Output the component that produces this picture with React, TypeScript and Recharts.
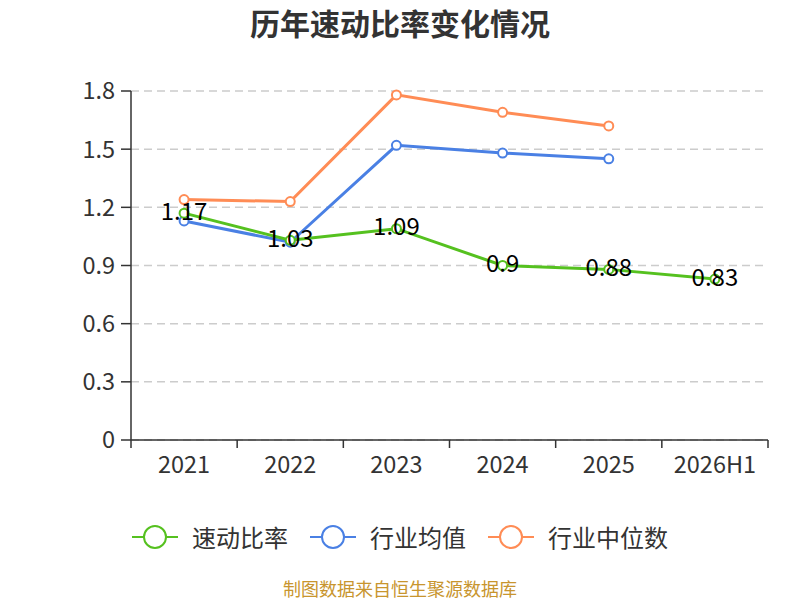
import React from 'react';
import { LineChart, Line, XAxis, YAxis, CartesianGrid, LabelList } from 'recharts';

const years = ['2021', '2022', '2023', '2024', '2025', '2026H1'];
const quickRatio = [1.17, 1.03, 1.09, 0.9, 0.88, 0.83];
const industryMean = [1.13, 1.02, 1.52, 1.48, 1.45, null];
const industryMedian = [1.24, 1.23, 1.78, 1.69, 1.62, null];
const yTicks = [0, 0.3, 0.6, 0.9, 1.2, 1.5, 1.8];

const series = [
  { key: 'quick', name: '速动比率', color: '#55c11f' },
  { key: 'mean', name: '行业均值', color: '#4a80e4' },
  { key: 'median', name: '行业中位数', color: '#ff8c55' },
];

const data = years.map((year, i) => ({
  year,
  quick: quickRatio[i],
  mean: industryMean[i],
  median: industryMedian[i],
}));

const font = '"Noto Sans CJK SC", "Noto Sans", sans-serif';

// tick marks sit on the band edges, labels in the band centre
const XTick = (props: any) => {
  const { x, y, payload, index } = props;
  const half = payload.offset || 0;
  const last = index === years.length - 1;
  return (
    <g>
      <line x1={x - half} y1={y - 8} x2={x - half} y2={y} stroke="#333" strokeWidth={1.5} />
      {last && <line x1={x + half} y1={y - 8} x2={x + half} y2={y} stroke="#333" strokeWidth={1.5} />}
      <text x={x} y={y + 25} textAnchor="middle" fill="#333" fontSize={23.5} fontFamily={font}>
        {payload.value}
      </text>
    </g>
  );
};

const PointLabel = (props: any) => {
  const { x, y, value } = props;
  return (
    <text x={x} y={y - 4} textAnchor="middle" dominantBaseline="central" fill="#000" fontSize={24} fontFamily={font}>
      {value}
    </text>
  );
};

const LegendRow = () => (
  <div
    style={{
      position: 'absolute',
      top: 520,
      left: 0,
      width: 800,
      display: 'flex',
      justifyContent: 'center',
      gap: 22,
      fontFamily: font,
      fontSize: 24,
      lineHeight: '34px',
      color: '#333',
    }}
  >
    {series.map((s) => (
      <div key={s.key} style={{ display: 'flex', alignItems: 'center' }}>
        <svg width={46} height={34} style={{ marginRight: 14 }}>
          <line x1={0} y1={17} x2={46} y2={17} stroke={s.color} strokeWidth={2} />
          <circle cx={23} cy={17} r={11} fill="#fff" stroke={s.color} strokeWidth={2} />
        </svg>
        <span>{s.name}</span>
      </div>
    ))}
  </div>
);

export default function App() {
  return (
    <div style={{ position: 'absolute', left: 0, top: 0, width: 800, height: 600, background: '#fff', overflow: 'hidden' }}>
      <div
        style={{
          position: 'absolute',
          top: 6,
          width: 800,
          textAlign: 'center',
          fontFamily: font,
          fontSize: 30,
          lineHeight: '32px',
          fontWeight: 'bold',
          color: '#333',
        }}
      >
        历年速动比率变化情况
      </div>
      <LineChart
        width={800}
        height={600}
        data={data}
        margin={{ top: 91, right: 32, bottom: 130, left: 0 }}
      >
        <CartesianGrid vertical={false} stroke="#ccc" strokeDasharray="8 5" strokeWidth={1.5} />
        <XAxis
          dataKey="year"
          scale="band"
          axisLine={{ stroke: '#333', strokeWidth: 1.5 }}
          tickLine={false}
          tickSize={8}
          tickMargin={0}
          tick={<XTick />}
          interval={0}
          height={30}
        />
        <YAxis
          domain={[0, 1.8]}
          ticks={yTicks}
          width={131}
          axisLine={{ stroke: '#333', strokeWidth: 1.5 }}
          tickLine={{ stroke: '#333', strokeWidth: 1.5 }}
          tickSize={10}
          tickMargin={6}
          tick={{ fill: '#333', fontSize: 23.5, fontFamily: font }}
        />
        <Line
          dataKey="median"
          stroke="#ff8c55"
          strokeWidth={3}
          dot={{ r: 4.5, fill: '#fff', stroke: '#ff8c55', strokeWidth: 2 }}
          isAnimationActive={false}
        />
        <Line
          dataKey="mean"
          stroke="#4a80e4"
          strokeWidth={3}
          dot={{ r: 4.5, fill: '#fff', stroke: '#4a80e4', strokeWidth: 2 }}
          isAnimationActive={false}
        />
        <Line
          dataKey="quick"
          stroke="#55c11f"
          strokeWidth={3}
          dot={{ r: 4.5, fill: '#fff', stroke: '#55c11f', strokeWidth: 2 }}
          isAnimationActive={false}
        >
          <LabelList dataKey="quick" content={<PointLabel />} />
        </Line>
      </LineChart>
      <LegendRow />
      <div
        style={{
          position: 'absolute',
          top: 578,
          width: 800,
          textAlign: 'center',
          fontFamily: font,
          fontSize: 18,
          lineHeight: '20px',
          color: '#c8952e',
        }}
      >
        制图数据来自恒生聚源数据库
      </div>
    </div>
  );
}
